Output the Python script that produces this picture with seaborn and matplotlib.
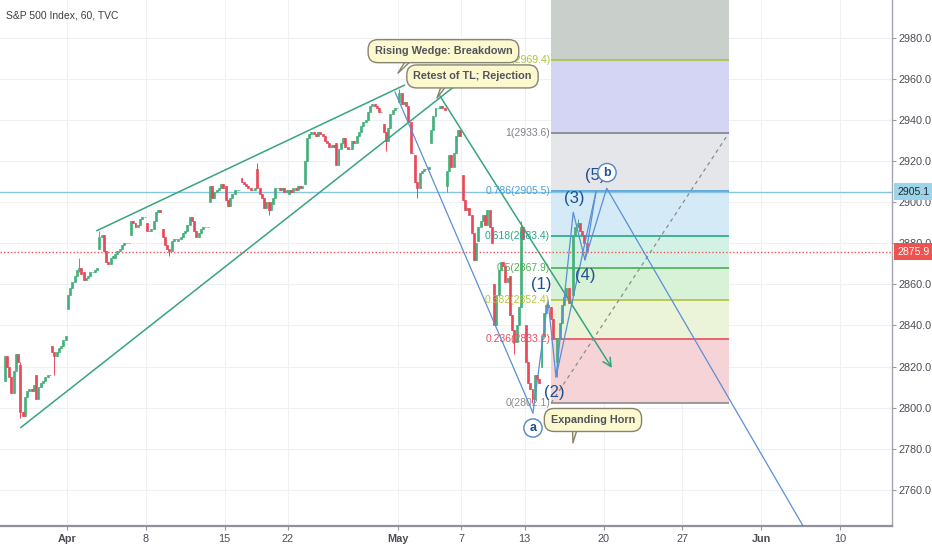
import pandas as pd
import matplotlib
matplotlib.use("Agg")
import matplotlib.pyplot as plt
import seaborn as sns

# ---- hourly candles, 7 bars per trading day (day 0 = Apr 1) ----
day_index = list(range(-4, 33))
day_open = [2813, 2821, 2816, 2830, 2848, 2866, 2877, 2873, 2884, 2890,
            2887, 2881, 2891, 2900, 2908, 2912, 2916, 2899, 2904, 2909,
            2934, 2929, 2926, 2940, 2938, 2949, 2923, 2929, 2908, 2913,
            2881, 2860, 2864, 2840, 2820, 2822, 2855]
day_closes = [
    [2825, 2820, 2815, 2807, 2818, 2826, 2822],  # Mar 26
    [2798, 2796, 2805, 2808, 2809, 2808, 2811],  # Mar 27
    [2804, 2810, 2812, 2813, 2815, 2816, 2816],  # Mar 28
    [2827, 2825, 2827, 2829, 2830, 2833, 2835],  # Mar 29
    [2855, 2858, 2861, 2864, 2867, 2868, 2865],  # Apr 1
    [2862, 2863, 2864, 2866, 2866, 2867, 2868],  # Apr 2
    [2883, 2884, 2876, 2871, 2870, 2873, 2874],  # Apr 3
    [2875, 2876, 2877, 2879, 2880, 2880, 2880],  # Apr 4
    [2891, 2890, 2888, 2889, 2892, 2893, 2893],  # Apr 5
    [2886, 2886, 2887, 2891, 2895, 2896, 2895],  # Apr 8
    [2883, 2879, 2877, 2876, 2881, 2882, 2882],  # Apr 9
    [2882, 2883, 2885, 2886, 2889, 2893, 2891],  # Apr 10
    [2886, 2883, 2885, 2887, 2888, 2888, 2888],  # Apr 11
    [2908, 2902, 2905, 2906, 2907, 2909, 2907],  # Apr 12
    [2901, 2898, 2902, 2904, 2906, 2906, 2906],  # Apr 15
    [2910, 2909, 2908, 2907, 2906, 2906, 2907],  # Apr 16
    [2907, 2904, 2902, 2897, 2900, 2896, 2900],  # Apr 17
    [2902, 2907, 2907, 2906, 2907, 2905, 2906],  # Apr 18
    [2906, 2905, 2907, 2906, 2908, 2907, 2908],  # Apr 22
    [2920, 2931, 2933, 2934, 2933, 2932, 2934],  # Apr 23
    [2933, 2932, 2930, 2929, 2927, 2928, 2927],  # Apr 24
    [2918, 2926, 2929, 2931, 2927, 2926, 2926],  # Apr 25
    [2930, 2929, 2932, 2934, 2937, 2939, 2940],  # Apr 26
    [2944, 2947, 2948, 2947, 2946, 2944, 2944],  # Apr 29
    [2934, 2930, 2936, 2943, 2945, 2946, 2946],  # Apr 30
    [2953, 2948, 2949, 2947, 2939, 2924, 2924],  # May 1
    [2910, 2907, 2914, 2915, 2916, 2916, 2917],  # May 2
    [2935, 2942, 2946, 2946, 2947, 2946, 2945],  # May 3
    [2915, 2923, 2917, 2924, 2932, 2935, 2932],  # May 6
    [2901, 2896, 2897, 2894, 2885, 2872, 2880],  # May 7
    [2888, 2891, 2894, 2889, 2896, 2888, 2880],  # May 8
    [2840, 2855, 2867, 2871, 2869, 2861, 2863],  # May 9
    [2845, 2838, 2832, 2840, 2849, 2888, 2882],  # May 10
    [2822, 2812, 2809, 2804, 2816, 2814, 2812],  # May 13
    [2835, 2846, 2850, 2849, 2843, 2834, 2834],  # May 14
    [2834, 2841, 2850, 2854, 2858, 2851, 2852],  # May 15
    [2884, 2888, 2890, 2886, 2884, 2880, 2876],  # May 16
]
# visible wicks: (day, bar) -> (low, high)
wicks = {(-3, 0): (2795, 2822), (-1, 1): (2816, 2827), (0, 5): (2866, 2873),
         (2, 0): (2877, 2886), (6, 3): (2874, 2877), (12, 0): (2907, 2919),
         (12, 5): (2894, 2900), (20, 1): (2925, 2934), (21, 0): (2949, 2955),
         (22, 1): (2902, 2910), (24, 0): (2905, 2915), (28, 2): (2826, 2838),
         (28, 5): (2849, 2891), (29, 3): (2802.1, 2809), (31, 0): (2815, 2834),
         (32, 2): (2888, 2892)}

tick_days = [0, 5, 10, 14, 21, 25, 29, 34, 39, 44, 49]
tick_labels = ["Apr", "8", "15", "22", "May", "7", "13", "20", "27", "Jun", "10"]
price_ticks = list(range(2760, 2981, 20))

# ---- Fibonacci retracement ----
fib_labels = ["0(2802.1)", "0.236(2833.2)", "0.382(2852.4)", "0.5(2867.9)",
              "0.618(2883.4)", "0.786(2905.5)", "1(2933.6)", "1.272(2969.4)"]
fib_prices = [2802.1, 2833.2, 2852.4, 2867.9, 2883.4, 2905.5, 2933.6, 2969.4]
fib_top = 3014.9
fib_days = [30.67, 41.93]
fib_line_colors = ["#8a8a8a", "#e84e5c", "#b4c43c", "#4caf50", "#26a68a",
                   "#4aa0d8", "#80808c", "#a9c53b"]
fib_band_colors = ["#f6d3d6", "#ebf3d8", "#d7f2d6", "#d3f2e5", "#d4eaf6",
                   "#e5e6e9", "#d4d4f5", "#c9d0cc"]

# ---- drawings (day, price) ----
green_lines = pd.DataFrame({
    "seg": ["upper", "upper", "lower", "lower"],
    "x": [1.90, 21.4, -2.91, 25.22],
    "y": [2886.1, 2957.0, 2790.3, 2960.4]})
retest_start, retest_end = (23.64, 2951.7), (34.53, 2819.3)
blue_lines = pd.DataFrame({
    "seg": ["leg"] * 2 + ["wave"] * 6 + ["b"] * 3 + ["horn"] * 2,
    "x": [20.79, 29.53,
          29.53, 30.48, 30.99, 32.08, 32.82, 33.52,
          32.82, 34.20, 47.5,
          30.99, 33.52],
    "y": [2953.7, 2797.4,
          2797.4, 2852.4, 2814.9, 2895.1, 2871.9, 2905.1,
          2871.9, 2906.8, 2731.0,
          2814.9, 2905.1]})
wave_text = ["(1)", "(2)", "(3)", "(4)", "(5)"]
wave_x = [30.04, 30.90, 32.13, 32.82, 33.50]
wave_y = [2860.1, 2807.2, 2901.6, 2864.1, 2913.0]
circle_text = ["a", "b"]
circle_x = [29.53, 34.22]
circle_y = [2790.1, 2914.4]

callout_text = ["Rising Wedge: Breakdown", "Retest of TL; Rejection", "Expanding Horn"]
callout_x = [23.86, 25.70, 33.33]
callout_y = [2973.5, 2961.2, 2794.0]
callout_tip_x = [20.98, 23.45, 32.06]
callout_tip_y = [2962.8, 2950.7, 2782.8]

last_price = 2875.9
marker_price = 2905.1

UP, DOWN = "#45b07c", "#e9485a"
GREEN_LINE, BLUE_LINE = "#37a47f", "#5a8fd6"

sns.set_theme(style="white")
plt.rcParams["font.family"] = ["Liberation Sans", "DejaVu Sans"]

fig = plt.figure(figsize=(9.32, 5.5), dpi=100)
ax = fig.add_axes([0, 24 / 550, 891.7 / 932, 526 / 550])
ax.set_xlim(-4.224, 52.25)
ax.set_ylim(2742.4, 2998.4)

# grid
ax.set_xticks(tick_days)
ax.set_yticks(price_ticks)
ax.grid(True, color="#eff0f3", lw=0.8)
ax.set_axisbelow(True)

# fib bands and levels
band_edges = fib_prices + [fib_top]
for i, col in enumerate(fib_band_colors):
    ax.fill_between(fib_days, band_edges[i], band_edges[i + 1], color=col,
                    lw=0, zorder=1)
ax.hlines(fib_prices, fib_days[0], fib_days[1], colors=fib_line_colors, lw=1.2, zorder=2)
ax.plot(fib_days, [fib_prices[0], fib_prices[6]], ls=(0, (3, 3)), color="#8c8c8c",
        lw=0.9, zorder=6)

# horizontal lines
ax.axhline(marker_price, color="#86c4e2", lw=1, zorder=2)
ax.axhline(last_price, color="#ef5350", lw=1, ls=(0, (1, 1.5)), zorder=2)

# candles
rows = []
for d, o, closes in zip(day_index, day_open, day_closes):
    prev = o
    for j, c in enumerate(closes):
        lo, hi = wicks.get((d, j), (min(prev, c), max(prev, c)))
        rows.append({"x": d + (j + 0.5) / 7, "open": prev, "close": c,
                     "low": lo, "high": hi})
        prev = c
candles = pd.DataFrame(rows)
for up, col in [(True, UP), (False, DOWN)]:
    sub = candles[(candles["close"] >= candles["open"]) == up]
    ax.vlines(sub["x"], sub["low"], sub["high"], color=col, lw=0.7, zorder=4)
    ax.bar(sub["x"], sub["close"] - sub["open"], bottom=sub["open"], width=0.125,
           color=col, edgecolor=col, linewidth=0.5, zorder=5)

# trend lines
sns.lineplot(data=green_lines, x="x", y="y", units="seg", estimator=None, sort=False,
             color=GREEN_LINE, lw=1.1, ax=ax, zorder=6)
ax.annotate("", xy=retest_end, xytext=retest_start, zorder=6,
            arrowprops=dict(arrowstyle="->,head_length=0.5,head_width=0.25",
                            color=GREEN_LINE, lw=1.1, shrinkA=0, shrinkB=0))
sns.lineplot(data=blue_lines, x="x", y="y", units="seg", estimator=None, sort=False,
             color=BLUE_LINE, lw=0.9, ax=ax, zorder=6)
ax.set_xlabel("")
ax.set_ylabel("")

# fib labels
for lab, p, col in zip(fib_labels, fib_prices, fib_line_colors):
    ax.text(fib_days[0] - 0.05, p, lab, ha="right", va="center", color=col,
            fontsize=7.5, zorder=7)

# wave labels
for t, x, y in zip(wave_text, wave_x, wave_y):
    ax.text(x, y, t, ha="center", va="center", color="#1f4f8c", fontsize=12, zorder=8)
for t, x, y in zip(circle_text, circle_x, circle_y):
    ax.text(x, y, t, ha="center", va="center", color="#1f4f8c", fontsize=9,
            fontweight="bold", zorder=8,
            bbox=dict(boxstyle="circle,pad=0.25", fc="white", ec="#4f86cc", lw=1))

# callouts
for t, x, y, tx, ty in zip(callout_text, callout_x, callout_y, callout_tip_x, callout_tip_y):
    ax.annotate(t, xy=(tx, ty), xytext=(x, y), ha="center", va="center",
                fontsize=7.8, fontweight="bold", color="#51555b", zorder=9,
                bbox=dict(boxstyle="round,pad=0.6,rounding_size=0.9", fc="#fcf9cf",
                          ec="#86846f", lw=1),
                arrowprops=dict(arrowstyle="wedge,tail_width=0.7,shrink_factor=0.5",
                                fc="#fcf9cf", ec="#86846f", lw=1, patchA=None,
                                shrinkA=0, shrinkB=0, relpos=(0.3, 0.5)))

# axes styling
ax.yaxis.tick_right()
ax.set_yticklabels([f"{p:.1f}" for p in price_ticks])
ax.set_xticklabels(tick_labels)
for lab in ax.get_xticklabels():
    if lab.get_text() in ("Apr", "May", "Jun"):
        lab.set_fontweight("bold")
ax.tick_params(axis="y", labelsize=7.8, labelcolor="#4a4d55", color="#9598a1",
               length=3, width=0.8, pad=2, right=True, left=False)
ax.tick_params(axis="x", labelsize=7.8, labelcolor="#4a4d55", color="#9598a1",
               length=3, width=0.8, pad=3, bottom=True)
for side in ("top", "left"):
    ax.spines[side].set_visible(False)
ax.spines["right"].set_color("#a3a6af")
ax.spines["right"].set_linewidth(1)
ax.spines["bottom"].set_color("#8e919b")
ax.spines["bottom"].set_linewidth(1.6)

# price tags on the scale
ytrans = ax.get_yaxis_transform()
ax.text(1.007, marker_price, "2905.1", transform=ytrans, ha="left", va="center",
        fontsize=7.6, color="#1f2a36", clip_on=False, zorder=10,
        bbox=dict(boxstyle="square,pad=0.35", fc="#9ed4ea", ec="none"))
ax.text(1.007, last_price, "2875.9", transform=ytrans, ha="left", va="center",
        fontsize=7.6, color="white", clip_on=False, zorder=10,
        bbox=dict(boxstyle="square,pad=0.35", fc="#ef5350", ec="none"))

fig.text(6 / 932, 1 - 15 / 550, "S&P 500 Index, 60, TVC", fontsize=7.5,
         color="#3b3e45", va="center")

fig.savefig("out.png", dpi=100)
